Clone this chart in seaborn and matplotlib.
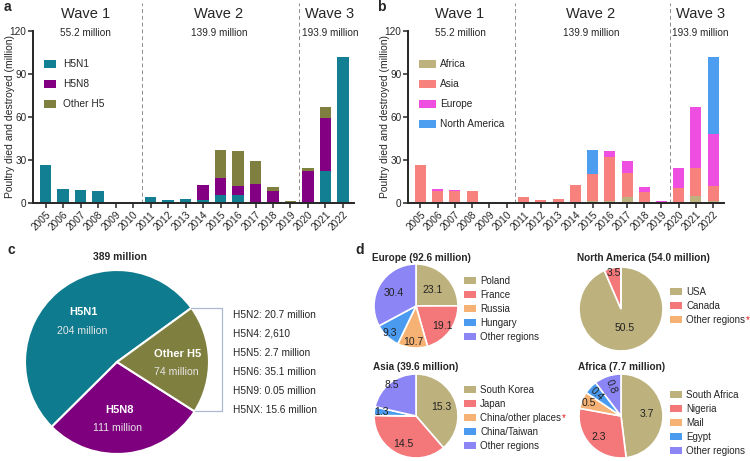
import numpy as np
import matplotlib
matplotlib.use('Agg')
import matplotlib.pyplot as plt
import seaborn as sns
from matplotlib.patches import Patch

# ---- data (million poultry) ----
years = ['2005', '2006', '2007', '2008', '2009', '2010', '2011', '2012', '2013',
         '2014', '2015', '2016', '2017', '2018', '2019', '2020', '2021', '2022']

h5n1     = [26.5, 9.6, 8.9, 8.7, 0.2, 0.2, 4.0, 2.3, 2.8, 1.9, 5.6, 5.6, 0.0, 0.0, 0.0, 0.0, 22.2, 101.6]
h5n8     = [0.0, 0.0, 0.0, 0.0, 0.0, 0.0, 0.0, 0.0, 0.0, 11.0, 11.7, 6.6, 13.6, 8.2, 0.3, 22.5, 37.2, 0.0]
other_h5 = [0.0, 0.0, 0.0, 0.0, 0.0, 0.0, 0.0, 0.0, 0.2, 0.0, 19.5, 24.1, 15.9, 3.0, 1.3, 1.6, 7.7, 0.0]

africa        = [0.0, 0.0, 0.0, 0.0, 0.0, 0.0, 0.0, 0.0, 0.0, 0.0, 1.6, 1.6, 4.0, 0.0, 0.0, 0.0, 4.7, 1.6]
asia          = [26.5, 8.6, 8.2, 8.7, 0.2, 0.2, 4.0, 2.3, 3.0, 12.9, 18.8, 30.3, 16.8, 7.7, 1.0, 10.8, 19.4, 10.1]
europe        = [0.0, 1.0, 0.7, 0.0, 0.0, 0.0, 0.0, 0.0, 0.0, 0.0, 0.0, 4.4, 8.7, 3.5, 0.6, 13.3, 43.0, 36.1]
north_america = [0.0, 0.0, 0.0, 0.0, 0.0, 0.0, 0.0, 0.0, 0.0, 0.0, 16.4, 0.0, 0.0, 0.0, 0.0, 0.0, 0.0, 53.8]

wave_names = ['Wave 1', 'Wave 2', 'Wave 3']
wave_totals = ['55.2 million', '139.9 million', '193.9 million']

subtype_names = ['H5N1', 'H5N8', 'Other H5']
subtype_totals = [204, 111, 74]
other_h5_detail = ['H5N2: 20.7 million', 'H5N4: 2,610', 'H5N5: 2.7 million',
                   'H5N6: 35.1 million', 'H5N9: 0.05 million', 'H5NX: 15.6 million']

europe_names = ['Poland', 'France', 'Russia', 'Hungary', 'Other regions']
europe_vals = [23.1, 19.1, 10.7, 9.3, 30.4]
na_names = ['USA', 'Canada', 'Other regions*']
na_vals = [50.5, 3.5, 0.0]
asia_names = ['South Korea', 'Japan', 'China/other places*', 'China/Taiwan', 'Other regions']
asia_vals = [15.3, 14.5, 0.0, 1.3, 8.5]
africa_names = ['South Africa', 'Nigeria', 'Mail', 'Egypt', 'Other regions']
africa_vals = [3.7, 2.3, 0.5, 0.4, 0.8]

# ---- style ----
sns.set_style('ticks')
plt.rcParams['font.family'] = ['Liberation Sans', 'DejaVu Sans']

W, H = 750, 461
fig = plt.figure(figsize=(W / 100, H / 100), dpi=100)

sub_cols = ['#137f92', '#830083', '#7f7f40']
reg_cols = ['#bdb17d', '#f7817c', '#ee4fe0', '#4d9df0']
pie_cols = ['#bdb17d', '#f4777a', '#f5b274', '#4a9bef', '#8b85f5']


def rect_px(left, top, right, bottom):
    return [left / W, 1 - bottom / H, (right - left) / W, (bottom - top) / H]


def stacked_bars(ax, layers, colors, names, handlelength, textpad, ylab_x):
    cum = np.cumsum(np.array(layers), axis=0)
    # draw tallest stack first, lower layers on top
    for i in range(len(layers) - 1, -1, -1):
        sns.barplot(x=years, y=cum[i], color=colors[i], width=0.64, saturation=1,
                    linewidth=0, errorbar=None, ax=ax)
    ax.set_xlim(-0.72, 17.63)
    ax.set_ylim(0, 120)
    ax.set_yticks([0, 30, 60, 90, 120])
    ax.set_xlabel('')
    ax.set_ylabel('Poultry died and destroyed (million)', fontsize=7.5)
    ax.yaxis.set_label_coords(ylab_x, 0.5)
    sns.despine(ax=ax)
    for s in ['left', 'bottom']:
        ax.spines[s].set_linewidth(1.4)
    ax.tick_params(axis='both', width=1.1, length=3.5, labelsize=7.2, pad=1.2)
    plt.setp(ax.get_xticklabels(), rotation=45, ha='right', rotation_mode='anchor')
    for xv in [5.5, 14.5]:
        ax.axvline(xv, ymin=0, ymax=1.165, color='#8c8c8c', ls=(0, (4, 3)), lw=0.7,
                   clip_on=False)
    tr = ax.get_xaxis_transform()
    for xc, nm, tot in zip([2.3, 9.9, 16.25], wave_names, wave_totals):
        ax.text(xc, 1.1, nm, transform=tr, ha='center', va='center', fontsize=10.5)
        ax.text(xc, 0.988, tot, transform=tr, ha='center', va='center', fontsize=7.2)
    handles = [Patch(facecolor=c, edgecolor='none') for c in colors]
    ax.legend(handles, names, loc='upper left', bbox_to_anchor=(0.035, 0.835),
              frameon=False, fontsize=7.3, handlelength=handlelength, handleheight=0.8,
              handletextpad=textpad, labelspacing=0.98, borderpad=0, borderaxespad=0)


# ---- panel a ----
ax_a = fig.add_axes(rect_px(33, 31, 354, 203))
stacked_bars(ax_a, [h5n1, h5n8, other_h5], sub_cols, subtype_names, 1.15, 0.7, -0.056)

# ---- panel b ----
ax_b = fig.add_axes(rect_px(408, 31, 724, 203))
stacked_bars(ax_b, [africa, asia, europe, north_america], reg_cols,
             ['Africa', 'Asia', 'Europe', 'North America'], 1.7, 0.4, -0.057)

# ---- panel c ----
cx, cy, r = 117, 362, 92
ax_c = fig.add_axes(rect_px(cx - r, cy - r, cx + r, cy + r))
wedges, _ = ax_c.pie(subtype_totals, colors=['#0e7b8f', '#7e007e', '#7f7f3f'],
                     startangle=36, counterclock=True,
                     wedgeprops=dict(edgecolor='white', linewidth=1.5))
ax_c.set_xlim(-1, 1)
ax_c.set_ylim(-1, 1)
ax_c.set_aspect('equal')
lab_pos = [(-0.36, 0.54), (0.03, -0.52), (0.66, 0.09)]
for (lx, ly), nm, tot in zip(lab_pos, subtype_names, subtype_totals):
    ax_c.text(lx, ly, nm, ha='center', va='center', color='white', fontsize=8,
              fontweight='bold')
    ax_c.text(lx - 0.02, ly - 0.2, f'{tot} million', ha='center', va='center',
              color='#e6e6e6', fontsize=7.6)
a_top = np.deg2rad(wedges[0].theta1)
a_bot = np.deg2rad(wedges[2].theta1)
bx = 1.14
ax_c.plot([np.cos(a_top), bx, bx, np.cos(a_bot)],
          [np.sin(a_top), np.sin(a_top), np.sin(a_bot), np.sin(a_bot)],
          color='#a9bad2', lw=0.9, clip_on=False)
for i, t in enumerate(other_h5_detail):
    fig.text(233 / W, 1 - (315 + i * 18.9) / H, t, ha='left', va='center', fontsize=7.3)
fig.text(120 / W, 1 - 257 / H, '389 million', ha='center', va='center',
         fontsize=7.4, fontweight='bold')

# ---- panel d ----
star_texts = []


def region_pie(cxp, cyp, names, vals, title, title_xy, dists, rots, leg_xy):
    rp = 42
    ax = fig.add_axes(rect_px(cxp - rp, cyp - rp, cxp + rp, cyp + rp))
    wd, _ = ax.pie(vals, colors=pie_cols[:len(vals)], startangle=90, counterclock=False,
                   wedgeprops=dict(edgecolor='white', linewidth=1.2))
    ax.set_xlim(-1, 1)
    ax.set_ylim(-1, 1)
    ax.set_aspect('equal')
    for w, v, d, rot in zip(wd, vals, dists, rots):
        if v <= 0:
            continue
        ang = np.deg2rad((w.theta1 + w.theta2) / 2)
        ax.text(d * np.cos(ang), d * np.sin(ang), f'{v:.1f}', ha='center', va='center',
                fontsize=7.5, color='#222222', rotation=rot)
    fig.text(title_xy[0] / W, 1 - title_xy[1] / H, title, ha='left', va='center',
             fontsize=7.2, fontweight='bold')
    handles = [Patch(facecolor=c, edgecolor='none') for c in pie_cols[:len(vals)]]
    leg = fig.legend(handles, [n.rstrip('*') for n in names], loc='upper left',
                     bbox_to_anchor=(leg_xy[0] / W, 1 - leg_xy[1] / H),
                     frameon=False, fontsize=7.0, handlelength=1.2, handleheight=0.75,
                     handletextpad=0.45, labelspacing=0.4, borderpad=0, borderaxespad=0)
    for n, t in zip(names, leg.get_texts()):
        if n.endswith('*'):
            star_texts.append(t)


region_pie(416, 306, europe_names, europe_vals, 'Europe (92.6 million)', (372, 258),
           [0.55, 0.8, 0.85, 0.9, 0.62], [0, 0, 0, 0, 0], (464, 276))
region_pie(621, 309, na_names, na_vals, 'North America (54.0 million)', (577, 258),
           [0.45, 0.88, 0.8], [0, 0, 0], (670, 287))
region_pie(416, 416, asia_names, asia_vals, 'Asia (39.6 million)', (373, 367),
           [0.64, 0.74, 0.8, 0.82, 0.93], [0, 0, 0, 0, 0], (464, 385))
region_pie(621, 416, africa_names, africa_vals, 'Africa (7.7 million)', (578, 367),
           [0.62, 0.73, 0.82, 0.78, 0.74], [0, 0, 0, -45, -68], (670, 390))

# red asterisks after starred legend entries
fig.canvas.draw()
rend = fig.canvas.get_renderer()
for t in star_texts:
    bb = t.get_window_extent(rend)
    fig.text(bb.x1 / W + 0.001, bb.y1 / H, '*', color='#e02020', ha='left', va='top',
             fontsize=7)

# panel letters
for lt, (x, y) in zip('abcd', [(4, 7), (377, 7), (8, 250), (355, 250)]):
    fig.text(x / W, 1 - y / H, lt, ha='left', va='center', fontsize=10, fontweight='bold')

fig.savefig('out.png', dpi=100)
